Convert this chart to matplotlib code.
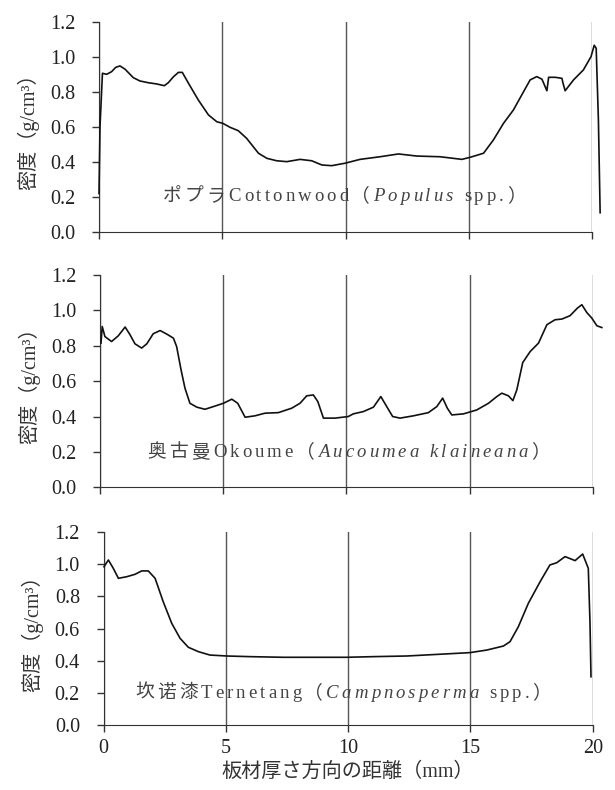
import matplotlib
matplotlib.use("Agg")
import matplotlib.pyplot as plt
from matplotlib.offsetbox import TextArea, HPacker, AnnotationBbox

plt.rcParams['font.family'] = ['Liberation Serif', 'Noto Sans CJK JP']

# 密度プロファイル (x: mm, y: g/cm3)
popura_x = [0.0, 0.04, 0.14, 0.31, 0.51, 0.68, 0.85, 1.06, 1.39, 1.66, 2.00, 2.34, 2.65, 2.81, 3.02,
            3.22, 3.38, 3.63, 4.03, 4.44, 4.78, 5.02, 5.32, 5.65, 5.99, 6.47, 6.81, 7.21, 7.62,
            8.16, 8.63, 9.04, 9.44, 9.98, 10.59, 11.40, 12.15, 12.89, 13.84, 14.72, 15.06,
            15.60, 16.00, 16.41, 16.81, 17.15, 17.49, 17.76, 17.97, 18.17, 18.24, 18.51, 18.78,
            18.82, 18.91, 19.25, 19.65, 19.96, 20.09, 20.17, 20.26, 20.33]
popura_y = [0.22, 0.60, 0.907, 0.901, 0.916, 0.941, 0.949, 0.93, 0.882, 0.863, 0.853, 0.846, 0.836, 0.853, 0.887,
            0.912, 0.912, 0.85, 0.754, 0.669, 0.63, 0.621, 0.598, 0.579, 0.535, 0.45, 0.421, 0.407, 0.402,
            0.415, 0.407, 0.383, 0.379, 0.393, 0.415, 0.43, 0.446, 0.434, 0.43, 0.415, 0.427,
            0.45, 0.526, 0.621, 0.697, 0.783, 0.869, 0.888, 0.873, 0.807, 0.884, 0.884, 0.878,
            0.853, 0.807, 0.869, 0.926, 1.002, 1.067, 1.05, 0.64, 0.11]

okoume_x = [0.04, 0.09, 0.20, 0.47, 0.74, 1.02, 1.22, 1.42, 1.69, 1.90, 2.16, 2.44, 2.71, 2.98,
            3.11, 3.29, 3.45, 3.65, 3.93, 4.26, 4.60, 5.01, 5.35, 5.59, 5.89, 6.29, 6.70, 7.24,
            7.78, 8.12, 8.39, 8.66, 8.84, 9.07, 9.54, 10.08, 10.28, 10.69, 11.10, 11.40, 11.64,
            11.88, 12.18, 12.72, 13.33, 13.67, 13.91, 14.10, 14.28, 14.75, 15.29, 15.77, 16.11,
            16.31, 16.58, 16.76, 16.92, 17.16, 17.46, 17.80, 18.14, 18.47, 18.75, 19.08, 19.38,
            19.56, 19.76, 19.96, 20.17, 20.37]
okoume_y = [0.815, 0.909, 0.852, 0.824, 0.856, 0.906, 0.862, 0.811, 0.787, 0.811, 0.868, 0.886, 0.866, 0.843,
            0.796, 0.664, 0.56, 0.475, 0.453, 0.441, 0.456, 0.475, 0.498, 0.475, 0.396, 0.404, 0.419, 0.422,
            0.447, 0.475, 0.517, 0.522, 0.485, 0.391, 0.391, 0.40, 0.415, 0.428, 0.453, 0.513, 0.456,
            0.40, 0.391, 0.404, 0.422, 0.456, 0.504, 0.447, 0.409, 0.415, 0.437, 0.475, 0.513,
            0.532, 0.517, 0.49, 0.551, 0.705, 0.767, 0.815, 0.919, 0.947, 0.951, 0.97, 1.013,
            1.032, 0.988, 0.957, 0.913, 0.903]

ternetang_x = [0.02, 0.20, 0.40, 0.61, 0.95, 1.29, 1.56, 1.83, 2.11, 2.44, 2.79, 3.13, 3.47, 3.88,
               4.35, 5.04, 5.99, 7.35, 8.72, 9.94, 11.03, 12.40, 13.76, 14.98, 15.67, 16.35, 16.62,
               16.96, 17.37, 17.85, 18.25, 18.53, 18.87, 19.28, 19.59, 19.82, 19.89, 19.93]
ternetang_y = [0.984, 1.026, 0.974, 0.912, 0.922, 0.937, 0.958, 0.958, 0.912, 0.767, 0.632, 0.539, 0.483, 0.456,
               0.435, 0.429, 0.425, 0.421, 0.421, 0.421, 0.425, 0.429, 0.44, 0.45, 0.466, 0.491, 0.518,
               0.611, 0.757, 0.891, 0.995, 1.009, 1.047, 1.022, 1.063, 0.974, 0.632, 0.30]

panels = [
    (popura_x, popura_y, [("ポプラ", False), ("Cottonwood（", False), ("Populus", True), (" spp.）", False)], 9.95, 0.205),
    (okoume_x, okoume_y, [("奥古曼", False), ("Okoume（", False), ("Aucoumea klaineana", True), ("）", False)], 10.1, 0.20),
    (ternetang_x, ternetang_y, [("坎诺漆", False), ("Ternetang（", False), ("Campnosperma", True), (" spp.）", False)], 9.8, 0.20),
]

# 各パネルの位置 (ピクセル: 左, 右, 上, 下)
W, H = 615, 790
boxes = [(99, 592, 22, 232), (100, 592.7, 275, 487.3), (103.5, 592.7, 532, 725)]

fig = plt.figure(figsize=(W / 100, H / 100), dpi=100)

for i, (xs, ys, label, lx, ly) in enumerate(panels):
    l, r, t, b = boxes[i]
    ax = fig.add_axes([l / W, 1 - b / H, (r - l) / W, (b - t) / H])
    ax.plot(xs, ys, color='#111111', lw=1.2, clip_on=False, zorder=3)
    ax.set_xlim(0, 20)
    ax.set_ylim(0, 1.2)
    ax.set_yticks([0.0, 0.2, 0.4, 0.6, 0.8, 1.0, 1.2])
    ax.set_yticklabels(['0.0', '0.2', '0.4', '0.6', '0.8', '1.0', '1.2'])
    ax.set_xticks([0, 5, 10, 15, 20])
    ax.spines['top'].set_visible(False)
    ax.spines['right'].set_visible(False)
    ax.spines['left'].set_color('#333333')
    ax.spines['bottom'].set_color('#333333')
    ax.tick_params(axis='both', direction='out', length=5, width=1, color='#333333',
                   labelsize=14.5, labelcolor='#222222')
    ax.tick_params(axis='y', pad=12)
    ax.tick_params(axis='x', pad=5)
    ax.grid(axis='x', color='#555555', lw=1)
    ax.set_ylabel('密度（g/cm³）', fontsize=14.5, color='#333333', labelpad=8)
    if i < 2:
        ax.set_xticklabels([])
    else:
        ax.set_xlabel('板材厚さ方向の距離（mm）', fontsize=14.5, color='#333333', labelpad=3)

    # 文字間隔の広い種名ラベル
    chars = []
    for s, it in label:
        for ch in s:
            chars.append(TextArea(ch, textprops=dict(fontsize=13.5, color='#444444',
                                                     fontstyle='italic' if it else 'normal')))
    pack = HPacker(children=chars, align='baseline', pad=0, sep=2.2)
    ab = AnnotationBbox(pack, (lx, ly), xycoords='data', frameon=False, box_alignment=(0.5, 0.5))
    ax.add_artist(ab)

fig.savefig('out.png', dpi=100)
